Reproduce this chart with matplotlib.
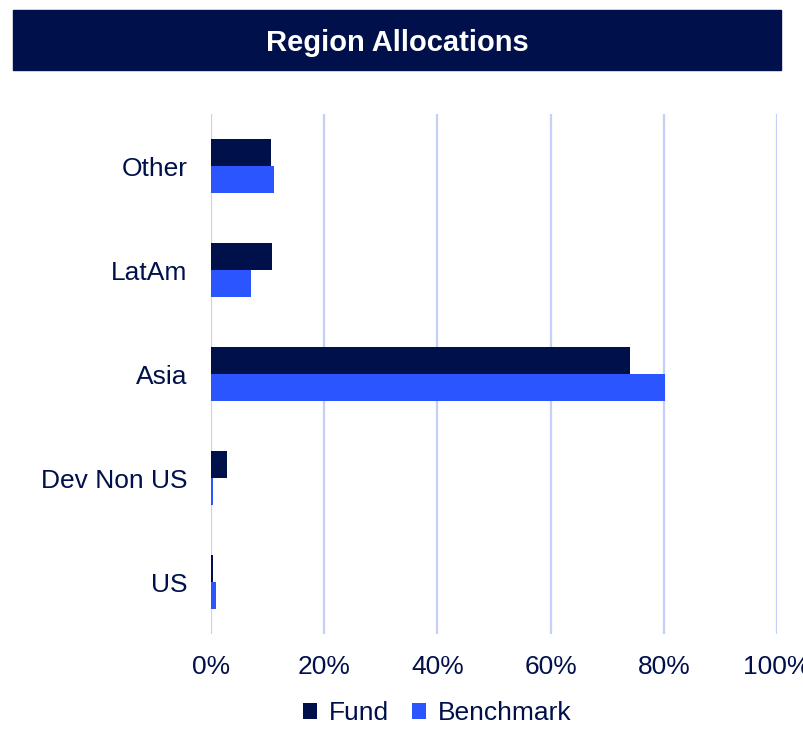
import numpy as np
import matplotlib.pyplot as plt
from matplotlib.patches import Rectangle

plt.rcParams['font.family'] = ['Liberation Sans', 'DejaVu Sans']

regions = ['US', 'Dev Non US', 'Asia', 'LatAm', 'Other']
fund = [0.3, 2.9, 74.0, 10.8, 10.6]
benchmark = [0.9, 0.4, 80.3, 7.1, 11.2]
xticks = [0, 20, 40, 60, 80, 100]

navy = '#00104A'
blue = '#2B55FF'
grid_col = '#C5CFF7'

fig = plt.figure(figsize=(8.04, 7.31), dpi=100)

# title banner
fig.patches.append(Rectangle((13 / 804, 1 - 70 / 731), (781 - 13) / 804, 60 / 731,
                             transform=fig.transFigure, color=navy, zorder=0))
fig.text(397 / 804, 1 - 43 / 731, 'Region Allocations', color='white',
         fontsize=21, fontweight='bold', ha='center', va='center')

ax = fig.add_axes([211 / 804, 1 - 634 / 731, (777 - 211) / 804, (634 - 114) / 731])
y = np.arange(len(regions))
h = 0.26
ax.barh(y + h / 2, fund, height=h, color=navy, label='Fund', zorder=3)
ax.barh(y - h / 2, benchmark, height=h, color=blue, label='Benchmark', zorder=3)

ax.set_xlim(0, 100)
ax.set_ylim(-0.5, len(regions) - 0.5)
ax.set_yticks(y)
ax.set_yticklabels(regions)
ax.set_xticks(xticks)
ax.set_xticklabels([f'{v}%' for v in xticks])
ax.tick_params(length=0, labelsize=19, labelcolor=navy, pad=17)
ax.tick_params(axis='x', pad=15)
ax.xaxis.grid(True, color=grid_col, lw=1.6, zorder=0)
for s in ax.spines.values():
    s.set_visible(False)

ax.legend(loc='upper center', bbox_to_anchor=(0.4, -0.094), ncol=2, frameon=False,
          fontsize=19, handlelength=0.55, handleheight=0.55, handletextpad=0.45,
          columnspacing=0.85, labelcolor=navy, borderpad=0.2)

fig.savefig('out.png', dpi=100)
